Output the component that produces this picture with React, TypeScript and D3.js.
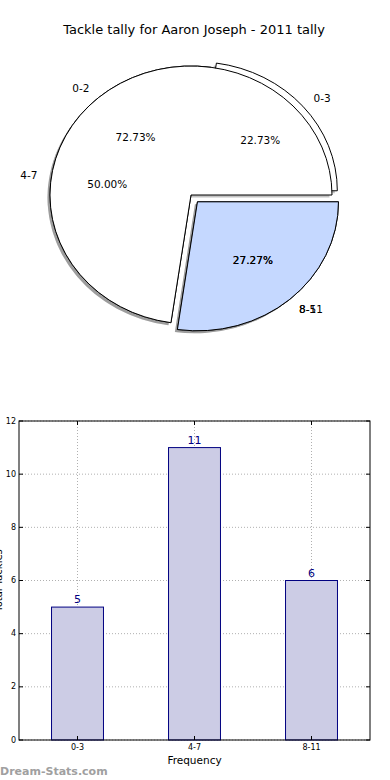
import * as d3 from 'd3';

// pie drawn twice on top of each other, as in the source image
const pieLabelsA = ['0-3', '4-7', '8-11'];
const pieValuesA = [5, 11, 6];
const pieExplodeA = [0.05, 0, 0.07];
const pieColorsA = ['#ffffff', '#ffffff', '#c5d8ff'];

const pieLabelsB = ['0-2', '8-5'];
const pieValuesB = [16, 6];
const pieExplodeB = [0, 0.07];
const pieColorsB = ['#ffffff', '#c5d8ff'];

const barCategories = ['0-3', '4-7', '8-11'];
const barValues = [5, 11, 6];
const yTicks = [0, 2, 4, 6, 8, 10, 12];

const W = 390;
const H = 780;
const cx = 191;
const cy = 195;
const rx = 141;
const ry = 129;

const margin = { left: 19, right: 370, top: 421, bottom: 740 };

type PieSpec = { labels: string[]; values: number[]; explode: number[]; colors: string[] };

const pieA: PieSpec = { labels: pieLabelsA, values: pieValuesA, explode: pieExplodeA, colors: pieColorsA };
const pieB: PieSpec = { labels: pieLabelsB, values: pieValuesB, explode: pieExplodeB, colors: pieColorsB };

const layout = d3
  .pie<number>()
  .sort(null)
  .startAngle(Math.PI / 2)
  .endAngle(Math.PI / 2 - 2 * Math.PI);

const arc = d3.arc<d3.PieArcDatum<number>>().innerRadius(0).outerRadius(rx);

function slices(p: PieSpec) {
  return layout(p.values).map((d, i) => {
    const mid = (d.startAngle + d.endAngle) / 2;
    const sx = Math.sin(mid);
    const sy = -Math.cos(mid);
    const e = p.explode[i];
    return {
      d,
      i,
      sx,
      sy,
      dx: e * rx * sx,
      dy: e * ry * sy,
      label: p.labels[i],
      color: p.colors[i],
      pct: ((d.value / d3.sum(p.values)) * 100).toFixed(2) + '%',
    };
  });
}

const PieShadows = ({ p }: { p: PieSpec }) => (
  <g>
    {slices(p).map((s) => (
      <path
        key={s.i}
        d={arc(s.d) || ''}
        transform={`translate(${cx + s.dx - 2.5},${cy + s.dy + 2.5}) scale(1,${ry / rx})`}
        fill="#666"
        opacity={0.4}
      />
    ))}
  </g>
);

const PieSlices = ({ p }: { p: PieSpec }) => (
  <g>
    {slices(p).map((s) => (
      <path
        key={s.i}
        d={arc(s.d) || ''}
        transform={`translate(${cx + s.dx},${cy + s.dy}) scale(1,${ry / rx})`}
        fill={s.color}
        stroke="#000"
        strokeWidth={1}
        vectorEffect="non-scaling-stroke"
        strokeLinejoin="round"
      />
    ))}
  </g>
);

const PieTexts = ({ p }: { p: PieSpec }) => (
  <g fontFamily="DejaVu Sans" fontSize={10.5} fill="#000">
    {slices(p).map((s) => (
      <g key={s.i}>
        <text
          x={cx + s.dx + 1.1 * rx * s.sx}
          y={cy + s.dy + 1.1 * ry * s.sy}
          textAnchor={s.sx < 0 ? 'end' : 'start'}
          dominantBaseline="central"
        >
          {s.label}
        </text>
        <text
          x={cx + s.dx + 0.6 * rx * s.sx}
          y={cy + s.dy + 0.6 * ry * s.sy}
          textAnchor="middle"
          dominantBaseline="central"
        >
          {s.pct}
        </text>
      </g>
    ))}
  </g>
);

const App = () => {
  const x = d3
    .scaleBand()
    .domain(barCategories)
    .range([margin.left, margin.right])
    .paddingInner(0.556)
    .paddingOuter(0.278);
  const y = d3.scaleLinear().domain([0, 12]).range([margin.bottom, margin.top]);
  const midY = (margin.top + margin.bottom) / 2;

  return (
    <svg width={W} height={H} style={{ position: 'absolute', left: 0, top: 0, background: '#fff' }}>
      <text x={194} y={34} textAnchor="middle" fontFamily="DejaVu Sans" fontSize={13}>
        Tackle tally for Aaron Joseph - 2011 tally
      </text>

      <PieShadows p={pieA} />
      <PieSlices p={pieA} />
      <PieShadows p={pieB} />
      <PieSlices p={pieB} />
      <PieTexts p={pieA} />
      <PieTexts p={pieB} />

      {/* grid */}
      <g stroke="#b0b0b0" strokeDasharray="1,2" strokeWidth={1}>
        {yTicks.map((t) => (
          <line key={t} x1={margin.left} x2={margin.right} y1={y(t)} y2={y(t)} />
        ))}
        {barCategories.map((c) => (
          <line
            key={c}
            x1={(x(c) || 0) + x.bandwidth() / 2}
            x2={(x(c) || 0) + x.bandwidth() / 2}
            y1={margin.top}
            y2={margin.bottom}
          />
        ))}
      </g>

      {/* bars */}
      {barCategories.map((c, i) => (
        <g key={c}>
          <rect
            x={x(c)}
            y={y(barValues[i])}
            width={x.bandwidth()}
            height={margin.bottom - y(barValues[i])}
            fill="rgb(204,204,229)"
            stroke="#000080"
            strokeWidth={1}
          />
          <text
            x={(x(c) || 0) + x.bandwidth() / 2}
            y={y(barValues[i]) - 4}
            textAnchor="middle"
            fontFamily="DejaVu Sans"
            fontSize={11}
            fill="#000080"
          >
            {barValues[i]}
          </text>
        </g>
      ))}

      {/* frame and ticks */}
      <rect
        x={margin.left}
        y={margin.top}
        width={margin.right - margin.left}
        height={margin.bottom - margin.top}
        fill="none"
        stroke="#000"
        strokeWidth={1}
      />
      <g stroke="#000" strokeWidth={1}>
        {yTicks.map((t) => (
          <g key={t}>
            <line x1={margin.left} x2={margin.left + 4} y1={y(t)} y2={y(t)} />
            <line x1={margin.right} x2={margin.right - 4} y1={y(t)} y2={y(t)} />
          </g>
        ))}
        {barCategories.map((c) => {
          const cxb = (x(c) || 0) + x.bandwidth() / 2;
          return (
            <g key={c}>
              <line x1={cxb} x2={cxb} y1={margin.bottom} y2={margin.bottom - 4} />
              <line x1={cxb} x2={cxb} y1={margin.top} y2={margin.top + 4} />
            </g>
          );
        })}
      </g>
      <g fontFamily="DejaVu Sans" fontSize={8} fill="#000">
        {yTicks.map((t) => (
          <text key={t} x={margin.left - 3} y={y(t)} textAnchor="end" dominantBaseline="central">
            {t}
          </text>
        ))}
        {barCategories.map((c) => (
          <text
            key={c}
            x={(x(c) || 0) + x.bandwidth() / 2}
            y={margin.bottom + 10}
            textAnchor="middle"
          >
            {c}
          </text>
        ))}
      </g>
      <text
        x={(margin.left + margin.right) / 2}
        y={764}
        textAnchor="middle"
        fontFamily="DejaVu Sans"
        fontSize={10.5}
      >
        Frequency
      </text>
      <text
        transform={`translate(2,${midY}) rotate(-90)`}
        textAnchor="middle"
        fontFamily="DejaVu Sans"
        fontSize={10}
      >
        Total Tackles
      </text>
      <text x={0} y={775} fontFamily="DejaVu Sans" fontWeight="bold" fontSize={11} fill="#a0a0a0">
        Dream-Stats.com
      </text>
    </svg>
  );
};

export default App;
